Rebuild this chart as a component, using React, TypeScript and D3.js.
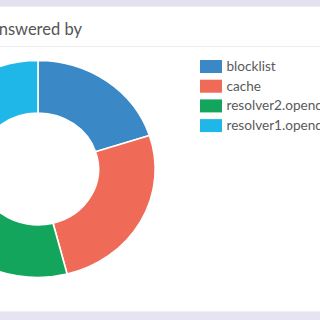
import React from "react";
import * as d3 from "d3";

const categories = ["blocklist", "cache", "resolver2.opendns.com", "resolver1.opendns.com"];
const values = [20, 26, 29, 25];
const colors = ["#3a89c6", "#f06a58", "#13a55c", "#1fb7e7"];
const title = "Queries answered by";

if (typeof document !== "undefined") document.body.style.margin = "0";

export default function App() {
  const W = 320, H = 320;
  const pie = d3.pie<number>().sort(null).value((d) => d)(values);
  const arc = d3.arc<d3.PieArcDatum<number>>().innerRadius(56).outerRadius(108.5);
  return (
    <svg width={W} height={H} style={{ display: "block", fontFamily: "Lato, 'Open Sans', sans-serif" }}>
      <rect x={0} y={0} width={W} height={H} fill="#ffffff" />
      <rect x={0} y={0} width={W} height={6} fill="#e3e1ee" />
      <rect x={0} y={6} width={W} height={1} fill="#eeedf5" />
      <rect x={0} y={312} width={W} height={8} fill="#e6e4f0" />
      <rect x={0} y={311} width={W} height={1} fill="#efeef6" />
      <line x1={0} x2={W} y1={46.5} y2={46.5} stroke="#ececf0" strokeWidth={1} />
      <text x={82} y={35} textAnchor="end" fontSize={16.5} fill="#555555">{title}</text>
      <g transform="translate(38,169) scale(1.08,1)">
        {pie.map((p, i) => (
          <path key={i} d={arc(p) || ""} fill={colors[i]} stroke="#ffffff" strokeWidth={1.5} />
        ))}
      </g>
      <g>
        {categories.map((c, i) => (
          <g key={c} transform={`translate(200,${60 + i * 19.7})`}>
            <rect x={0} y={0} width={22} height={13} fill={colors[i]} />
            <text x={26.5} y={11} fontSize={13.6} fill="#5a5a5a">{c}</text>
          </g>
        ))}
      </g>
    </svg>
  );
}
